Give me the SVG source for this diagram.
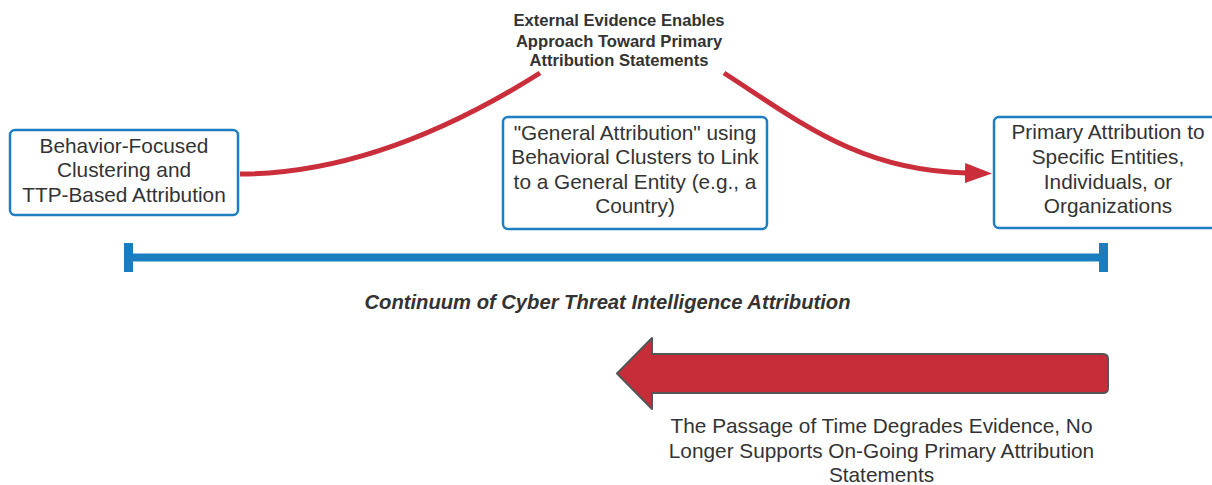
<svg xmlns="http://www.w3.org/2000/svg" width="1212" height="485" viewBox="0 0 1212 485">
<style>
.box{fill:#fff;stroke:#1d7ec1;stroke-width:2.5}
.t{font-family:"Liberation Sans",Arial,sans-serif;font-size:20.8px;fill:#333;text-anchor:middle}
.lbl{font-family:"Liberation Sans",Arial,sans-serif;font-size:16.6px;font-weight:bold;fill:#333;text-anchor:middle}
.title{font-family:"Liberation Sans",Arial,sans-serif;font-size:20.2px;font-weight:bold;font-style:italic;fill:#333;text-anchor:middle}
.curve{fill:none;stroke:#c92e3a;stroke-width:5}
</style>
<defs>
<marker id="ah" markerUnits="userSpaceOnUse" markerWidth="28" markerHeight="22" refX="2" refY="11" orient="auto">
<path d="M0,1 L27,11 L0,21 Z" fill="#c92e3a"/>
</marker>
</defs>
<g id="connectors">
<path class="curve" d="M240,174 C340,174 440,136 540,73"/>
<path class="curve" d="M724,73 C800,122 860,171 967,173" marker-end="url(#ah)"/>
</g>
<g id="label-top">
<text class="lbl" x="619" y="26">External Evidence Enables</text>
<text class="lbl" x="619" y="46.5">Approach Toward Primary</text>
<text class="lbl" x="619" y="66">Attribution Statements</text>
</g>
<g id="node-behavior">
<rect class="box" x="10" y="130" width="228" height="85" rx="5"/>
<text class="t" x="124" y="152.7">Behavior-Focused</text>
<text class="t" x="124" y="177.2">Clustering and</text>
<text class="t" x="124" y="201.7">TTP-Based Attribution</text>
</g>
<g id="node-general">
<rect class="box" x="503" y="117" width="264" height="112" rx="5"/>
<text class="t" x="635" y="140">"General Attribution" using</text>
<text class="t" x="635" y="164.4">Behavioral Clusters to Link</text>
<text class="t" x="635" y="188.8">to a General Entity (e.g., a</text>
<text class="t" x="635" y="213.2">Country)</text>
</g>
<g id="node-primary">
<rect class="box" x="994" y="117" width="228" height="111" rx="5"/>
<text class="t" x="1108" y="139.3">Primary Attribution to</text>
<text class="t" x="1108" y="164.3">Specific Entities,</text>
<text class="t" x="1108" y="189.3">Individuals, or</text>
<text class="t" x="1108" y="213.3">Organizations</text>
</g>
<g id="continuum">
<line x1="128" y1="257.5" x2="1104" y2="257.5" stroke="#1a7dbf" stroke-width="8"/>
<rect x="124" y="243" width="9" height="29" fill="#1a7dbf"/>
<rect x="1099" y="243" width="9" height="29" fill="#1a7dbf"/>
<text class="title" x="607.5" y="309">Continuum of Cyber Threat Intelligence Attribution</text>
</g>
<g id="time-arrow">
<path d="M617,373.5 L652,338 L652,354 L1103,354 Q1108,354 1108,359 L1108,388 Q1108,393 1103,393 L652,393 L652,409 Z" fill="#c62d39" stroke="#555" stroke-width="2" stroke-linejoin="round"/>
<text class="t" x="881.5" y="433">The Passage of Time Degrades Evidence, No</text>
<text class="t" x="881.5" y="457.5">Longer Supports On-Going Primary Attribution</text>
<text class="t" x="881.5" y="482">Statements</text>
</g>
</svg>
